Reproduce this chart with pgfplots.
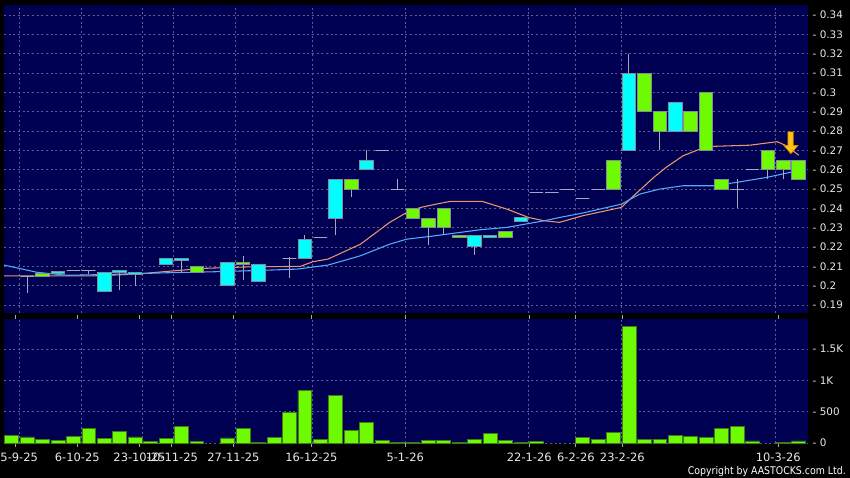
\documentclass[border=0pt]{standalone}
\usepackage{pgfplots}
\pgfplotsset{compat=1.18}
\usepgfplotslibrary{statistics}
\usepackage{fontspec}
\setmainfont{DejaVu Sans}
\newfontfamily\condfont[FakeStretch=0.89]{DejaVu Sans}
\definecolor{bgnavy}{RGB}{0,0,82}
\definecolor{gridc}{RGB}{92,92,145}
\definecolor{cyanc}{RGB}{0,255,255}
\definecolor{limec}{RGB}{110,250,0}
\definecolor{bordc}{RGB}{130,140,155}
\definecolor{wickc}{RGB}{165,168,185}
\definecolor{volbord}{RGB}{60,125,25}
\definecolor{maorange}{RGB}{235,150,110}
\definecolor{mablue}{RGB}{85,170,250}
\definecolor{txt}{RGB}{232,232,232}
\definecolor{goldc}{RGB}{255,195,20}
\definecolor{goldd}{RGB}{215,135,0}
% candle: position, low, body low, body high, high
\newcommand{\ccy}[5]{\addplot[draw=bordc, fill=cyanc, line width=0.75pt, boxplot prepared={draw position=#1, lower whisker=#2, lower quartile=#3, median=#3, upper quartile=#4, upper whisker=#5}] coordinates {};}
\newcommand{\cgr}[5]{\addplot[draw=bordc, fill=limec, line width=0.75pt, boxplot prepared={draw position=#1, lower whisker=#2, lower quartile=#3, median=#3, upper quartile=#4, upper whisker=#5}] coordinates {};}
\newcommand{\cdj}[5]{\addplot[draw=wickc, fill=none, line width=0.75pt, boxplot prepared={draw position=#1, lower whisker=#2, lower quartile=#3, median=#3, upper quartile=#4, upper whisker=#5}] coordinates {};}
\begin{document}
\begin{tikzpicture}[x=1pt,y=1pt]
\useasboundingbox (0,0) rectangle (637.5,-358.5);
\fill[black] (0,0) rectangle (637.5,-358.5);
\begin{scope}
\clip (0,0) rectangle (637.5,-358.5);
% ---------------- price panel ----------------
\begin{axis}[
  at={(3pt,-3.75pt)}, anchor=north west,
  width=603pt, height=231pt, scale only axis,
  xmin=-0.5, xmax=51.6, ymin=0.1859, ymax=0.3452,
  axis background/.style={fill=bgnavy},
  axis line style={draw=none},
  tick style={draw=none},
  xtick={0.5,4.5,8.5,10.5,14.5,19.5,25.5,33.5,36.5,39.5,49.5},
  xticklabels={},
  ytick={0.19,0.2,0.21,0.22,0.23,0.24,0.25,0.26,0.27,0.28,0.29,0.3,0.31,0.32,0.33,0.34},
  yticklabel pos=right,
  yticklabel={-\hspace{2.5pt}\pgfmathprintnumber{\tick}},
  /pgf/number format/assume math mode=true,
  yticklabel style={anchor=west, font=\fontsize{7.8}{9}\selectfont, text=txt},
  grid=major,
  major grid style={gridc, dash pattern=on 1.5pt off 2pt, line width=0.6pt},
  boxplot/draw direction=y,
  boxplot/box extend=0.88,
  boxplot/whisker extend=0,
  boxplot/draw/median/.code={},
  boxplot/every whisker/.style={draw=wickc},
]
% moving averages
\addplot[maorange, line width=0.8pt] coordinates {
(-0.5,0.2051) (5.3,0.2051) (8.0,0.2060) (10.5,0.2077) (12.5,0.2090) (15.5,0.2098) (18.7,0.2100)
(19.5,0.2124) (20.5,0.2138) (22.6,0.2215) (24.5,0.2328) (25.6,0.2379) (26.5,0.2405) (27.5,0.2422)
(28.4,0.2436) (30.5,0.2436) (32.1,0.2396) (33.5,0.2353) (34.5,0.2336) (35.5,0.2328) (37.0,0.2362)
(39.5,0.2405) (40.3,0.2465) (41.6,0.2560) (42.4,0.2612) (43.5,0.2672) (44.6,0.2707) (45.5,0.2721)
(47.85,0.2727) (49.6,0.2745) (50.2,0.2724) (51.0,0.2675)};
\addplot[mablue, line width=0.8pt] coordinates {
(-0.5,0.2107) (1.6,0.2070) (3.6,0.2054) (6.0,0.2058) (8.0,0.2062) (10.0,0.2067) (13.0,0.2072)
(16.0,0.2079) (18.5,0.2086) (20.5,0.2107) (22.6,0.2155) (24.5,0.2215) (25.6,0.2241) (27.1,0.2255)
(30.3,0.2289) (32.1,0.2302) (34.5,0.2336) (35.5,0.2353) (37.0,0.2376) (39.5,0.2422) (40.7,0.2474)
(42.0,0.2500) (43.5,0.2517) (45.5,0.2517) (47.0,0.2535) (48.9,0.2560) (51.0,0.2596)};
% candles
\cdj{1}{0.196}{0.205}{0.205}{0.205}
\cgr{2}{0.205}{0.205}{0.2065}{0.2065}
\ccy{3}{0.2062}{0.2062}{0.2072}{0.2072}
\cdj{4}{0.208}{0.208}{0.208}{0.208}
\cdj{5}{0.206}{0.208}{0.208}{0.208}
\ccy{6}{0.197}{0.197}{0.207}{0.207}
\ccy{7}{0.1977}{0.2067}{0.208}{0.208}
\ccy{8}{0.200}{0.206}{0.2068}{0.2068}
\ccy{10}{0.211}{0.211}{0.214}{0.214}
\ccy{11}{0.207}{0.2131}{0.2141}{0.2141}
\cgr{12}{0.207}{0.207}{0.210}{0.210}
\ccy{14}{0.200}{0.200}{0.212}{0.212}
\cgr{15}{0.2031}{0.2108}{0.2121}{0.2152}
\ccy{16}{0.202}{0.202}{0.211}{0.211}
\cdj{18}{0.204}{0.214}{0.214}{0.215}
\ccy{19}{0.214}{0.214}{0.224}{0.226}
\cdj{20}{0.225}{0.225}{0.225}{0.225}
\ccy{21}{0.226}{0.235}{0.255}{0.255}
\cgr{22}{0.246}{0.250}{0.255}{0.255}
\ccy{23}{0.260}{0.260}{0.265}{0.270}
\cdj{24}{0.270}{0.270}{0.270}{0.270}
\cdj{25}{0.250}{0.250}{0.250}{0.2552}
\cgr{26}{0.235}{0.235}{0.240}{0.240}
\cgr{27}{0.221}{0.230}{0.235}{0.235}
\cgr{28}{0.226}{0.230}{0.240}{0.240}
\cgr{29}{0.225}{0.225}{0.226}{0.226}
\ccy{30}{0.216}{0.2203}{0.226}{0.226}
\ccy{31}{0.225}{0.225}{0.226}{0.226}
\cgr{32}{0.225}{0.225}{0.228}{0.228}
\ccy{33}{0.2333}{0.2333}{0.2353}{0.2353}
\cdj{34}{0.248}{0.248}{0.248}{0.248}
\cdj{35}{0.248}{0.248}{0.248}{0.248}
\cdj{36}{0.250}{0.250}{0.250}{0.250}
\cdj{37}{0.245}{0.245}{0.245}{0.245}
\cdj{38}{0.250}{0.250}{0.250}{0.250}
\cgr{39}{0.250}{0.250}{0.265}{0.265}
\ccy{40}{0.270}{0.270}{0.310}{0.320}
\cgr{41}{0.290}{0.290}{0.310}{0.310}
\cgr{42}{0.270}{0.280}{0.290}{0.290}
\ccy{43}{0.280}{0.280}{0.295}{0.295}
\cgr{44}{0.280}{0.280}{0.290}{0.290}
\cgr{45}{0.270}{0.270}{0.300}{0.300}
\cgr{46}{0.250}{0.250}{0.255}{0.255}
\cdj{47}{0.240}{0.250}{0.250}{0.255}
\cdj{48}{0.260}{0.260}{0.260}{0.260}
\cgr{49}{0.255}{0.260}{0.270}{0.270}
\cgr{50}{0.255}{0.260}{0.265}{0.265}
\cgr{51}{0.255}{0.255}{0.265}{0.265}
% arrow marker
\addplot[fill=goldc, draw=goldd, line width=0.5pt] coordinates {
(50.30,0.2796) (50.64,0.2796) (50.64,0.2725) (50.94,0.2725) (50.49,0.2683) (50.04,0.2725) (50.30,0.2725)} -- cycle;
\end{axis}
% ---------------- volume panel ----------------
\begin{axis}[
  at={(3pt,-239.25pt)}, anchor=north west,
  width=603pt, height=93pt, scale only axis,
  xmin=-0.5, xmax=51.6, ymin=0, ymax=1980,
  axis background/.style={fill=bgnavy},
  axis line style={draw=none},
  ytick style={draw=none},
  xtick style={draw=wickc, line width=0.75pt},
  major tick length=0pt,
  tick align=outside,
  xtick={0.5,4.5,8.5,10.5,14.5,19.5,25.5,33.5,36.5,39.5,49.5},
  xticklabels={},
  extra x ticks={0.25,4.25,8.28,10.38,14.37,19.42,25.5,33.54,36.56,39.57,49.67},
  extra x tick labels={15-9-25,6-10-25,23-10-25,10-11-25,27-11-25,16-12-25,5-1-26,22-1-26,6-2-26,23-2-26,10-3-26},
  extra x tick style={grid=none, major tick length=3pt},
  xticklabel style={font=\fontsize{8.6}{10}\selectfont, text=txt, yshift=-1pt},
  ytick={0,500,1000,1500},
  yticklabels={{-\hspace{2.5pt}0},{-\hspace{2.5pt}500},{-\hspace{2.5pt}1K},{-\hspace{2.5pt}1.5K}},
  yticklabel pos=right,
  yticklabel style={anchor=west, font=\fontsize{7.8}{9}\selectfont, text=txt},
  grid=major,
  major grid style={gridc, dash pattern=on 1.5pt off 2pt, line width=0.6pt},
  ybar, bar width=0.9, bar shift=0pt,
]
\addplot[fill=limec, draw=volbord, line width=0.6pt] coordinates {
(0,127) (1,96) (2,53) (3,37) (4,111) (5,233) (6,69) (7,191) (8,96) (9,26) (10,69) (11,271) (12,21)
(14,80) (15,228) (16,16) (17,85) (18,494) (19,833) (20,58) (21,753) (22,196) (23,329) (24,37) (25,16)
(26,16) (27,47) (28,47) (29,16) (30,53) (31,153) (32,47) (33,11) (34,21) (37,84) (38,58) (39,163)
(40,1868) (41,53) (42,63) (43,126) (44,100) (45,95) (46,237) (47,268) (48,32) (50,16) (51,32)};
\end{axis}
\node[anchor=base east, font=\condfont\fontsize{7.9}{9}\selectfont, text=white, inner sep=0pt] at (634.5,-355.5) {Copyright by AASTOCKS.com Ltd.};
\end{scope}
\end{tikzpicture}
\end{document}
